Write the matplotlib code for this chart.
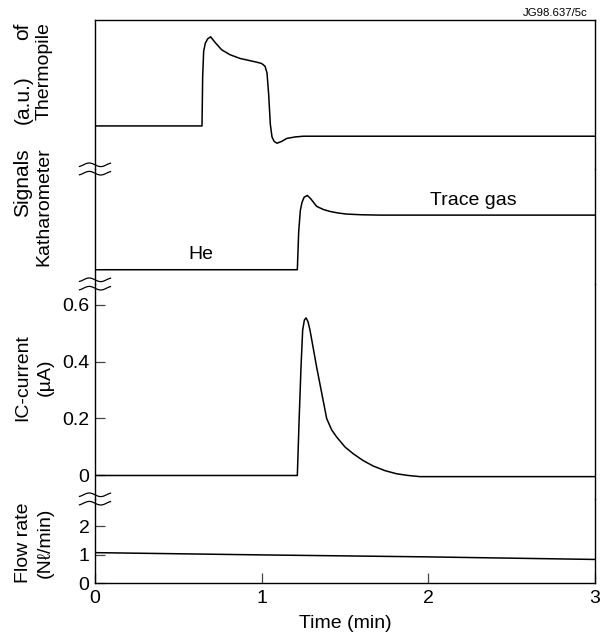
"""Thermopile / katharometer / IC-current / flow rate traces against time."""

import matplotlib
matplotlib.use("Agg")
import matplotlib.pyplot as plt
import numpy as np

plt.rcParams["font.family"] = ["Liberation Sans", "DejaVu Sans"]
plt.rcParams["font.size"] = 14

# ---- data ------------------------------------------------------------------
thermo_t = [0, 0.642, 0.646, 0.652, 0.662, 0.677, 0.694, 0.72, 0.76, 0.81, 0.87,
            0.93, 0.97, 1.0, 1.02, 1.032, 1.042, 1.052, 1.062, 1.075, 1.092,
            1.12, 1.15, 1.2, 1.25, 3.0]
thermo_v = [0.289, 0.289, 0.62, 0.79, 0.845, 0.875, 0.887, 0.85, 0.8, 0.767,
            0.742, 0.727, 0.717, 0.708, 0.69, 0.645, 0.5, 0.3, 0.215, 0.185,
            0.173, 0.185, 0.205, 0.215, 0.22, 0.22]

kath_t = [0, 1.214, 1.222, 1.232, 1.242, 1.255, 1.274, 1.295, 1.33, 1.37, 1.41,
          1.46, 1.51, 1.6, 1.71, 3.0]
kath_v = [0.124, 0.124, 0.45, 0.64, 0.71, 0.755, 0.77, 0.74, 0.675, 0.648,
          0.631, 0.617, 0.608, 0.602, 0.599, 0.599]

ic_t = [0, 1.214, 1.225, 1.236, 1.246, 1.256, 1.266, 1.278, 1.29, 1.31, 1.33,
        1.36, 1.39, 1.42, 1.45, 1.5, 1.55, 1.61, 1.67, 1.74, 1.81, 1.88, 1.95,
        2.05, 3.0]
ic_v = [0, 0, 0.2, 0.38, 0.51, 0.545, 0.553, 0.54, 0.51, 0.445, 0.38, 0.29,
        0.2, 0.16, 0.135, 0.1, 0.076, 0.052, 0.033, 0.017, 0.006, 0.0, -0.004,
        -0.004, -0.004]

flow_t = [0, 1.0, 2.0, 3.0]
flow_v = [1.07, 0.99, 0.92, 0.83]

time_ticks = [0, 1, 2, 3]
ic_ticks = [0, 0.2, 0.4, 0.6]
ic_tick_labels = ["0", "0.2", "0.4", "0.6"]
flow_ticks = [0, 1, 2]

W, H = 606, 642
LEFT, RIGHT = 95, 595
LW_FRAME = 1.0
LW_TRACE = 1.1


def _fx(px):
    return px / W


def _fy(py):
    return 1 - py / H


def _panel(fig, top_px, bottom_px):
    ax = fig.add_axes([_fx(LEFT), _fy(bottom_px), _fx(RIGHT - LEFT),
                       (bottom_px - top_px) / H])
    ax.set_xlim(0, 3)
    ax.patch.set_alpha(0)
    for side in ("top", "bottom"):
        ax.spines[side].set_visible(False)
    for spine in ax.spines.values():
        spine.set_linewidth(LW_FRAME)
    ax.tick_params(axis="x", bottom=False, labelbottom=False)
    ax.tick_params(axis="y", direction="in", length=7, width=0.9, pad=4,
                   color="#444444")
    return ax


def _break_mark(fig, ax):
    # two small tildes across the left spine at the bottom of a panel
    pos = ax.get_position()
    phase = np.linspace(-0.35 * np.pi, 2.35 * np.pi, 60)
    xs = pos.x0 + (phase - np.pi) / np.pi * (11.5 / W)
    for off in (-4.2, 4.2):
        ys = pos.y0 + (off + 1.8 * np.sin(phase)) / H
        fig.add_artist(plt.Line2D(xs, ys, color="black", lw=0.9,
                                  transform=fig.transFigure))


def _vlabel(fig, x, y, text, **kw):
    fig.text(_fx(x), _fy(y), text, rotation=90, ha="center", va="center", **kw)


fig = plt.figure(figsize=(W / 100, H / 100), dpi=100)

ax_th = _panel(fig, 20, 169)
ax_th.spines["top"].set_visible(True)
ax_th.set_ylim(0, 1)
ax_th.set_yticks([])
ax_th.plot(thermo_t, thermo_v, color="black", lw=LW_TRACE)

ax_ka = _panel(fig, 169, 284)
ax_ka.set_ylim(0, 1)
ax_ka.set_yticks([])
ax_ka.plot(kath_t, kath_v, color="black", lw=LW_TRACE)
ax_ka.text(0.636, 0.257, "He", ha="center", va="center")
ax_ka.text(2.27, 0.726, "Trace gas", ha="center", va="center")

ax_ic = _panel(fig, 284, 499)
ax_ic.set_ylim(-0.0825, 0.672)
ax_ic.set_yticks(ic_ticks)
ax_ic.set_yticklabels(ic_tick_labels)
ax_ic.plot(ic_t, ic_v, color="black", lw=LW_TRACE)

ax_fl = _panel(fig, 499, 583)
ax_fl.spines["bottom"].set_visible(True)
ax_fl.set_ylim(0, 2.96)
ax_fl.set_yticks(flow_ticks)
ax_fl.set_xticks(time_ticks)
ax_fl.tick_params(axis="x", bottom=True, labelbottom=True, direction="in",
                  length=7, width=0.9, pad=5, color="#444444")
ax_fl.plot(flow_t, flow_v, color="black", lw=LW_TRACE)
ax_fl.set_xlabel("Time (min)", labelpad=6)

for ax in (ax_th, ax_ka, ax_ic):
    _break_mark(fig, ax)

# rotated panel labels; the shared "Signals (a.u.) of" line runs long
_vlabel(fig, 23, 183, "Signals", fontsize=15)
_vlabel(fig, 23, 100, "(a.u.)", fontsize=15)
_vlabel(fig, 23, 31, "of", fontsize=15)
_vlabel(fig, 44, 71, "Thermopile")
_vlabel(fig, 44, 207, "Katharometer")
_vlabel(fig, 23, 378, "IC-current")
_vlabel(fig, 45, 377, "(\u00b5A)")
_vlabel(fig, 23, 543, "Flow rate")
_vlabel(fig, 45, 543, "(N\u2113/min)")

fig.text(_fx(588), _fy(13), "JG98.637/5c", ha="right", va="center", fontsize=8.2)

fig.savefig("out.png", dpi=100)
